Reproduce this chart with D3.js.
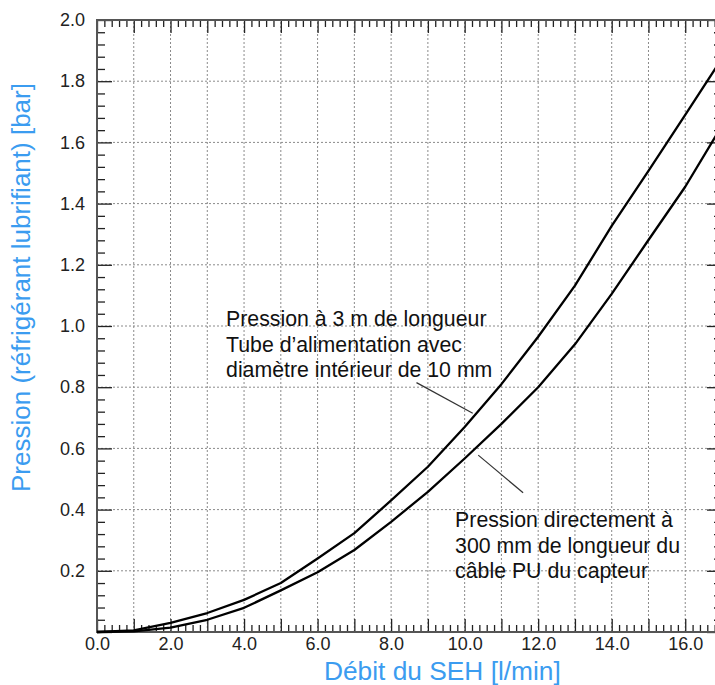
<!DOCTYPE html>
<html>
<head>
<meta charset="utf-8">
<script src="https://cdn.jsdelivr.net/npm/d3@7"></script>
<style>
  html, body { margin: 0; padding: 0; background: #fff; }
  svg { display: block; font-family: "Liberation Sans", Arial, sans-serif; }
</style>
</head>
<body>
<div id="chart"></div>
<script>
// Flow rate of the SEH [l/min]
const flowRates = [0, 1, 2, 3, 4, 5, 6, 7, 8, 9, 10, 11, 12, 13, 14, 15, 16, 17];
// Pressure with 3 m supply tube, 10 mm inner diameter [bar]
const pressureTube3m = [0, 0.005, 0.03, 0.062, 0.105, 0.16, 0.24, 0.323, 0.43, 0.54,
  0.67, 0.81, 0.965, 1.132, 1.327, 1.507, 1.69, 1.875];
// Pressure directly at 300 mm of the sensor PU cable [bar]
const pressureSensor300mm = [0, 0.002, 0.014, 0.04, 0.079, 0.136, 0.195, 0.268, 0.36, 0.458,
  0.567, 0.68, 0.8, 0.94, 1.105, 1.281, 1.455, 1.655];

const xTickLabels = [0, 2, 4, 6, 8, 10, 12, 14, 16];
const yTickLabels = [0.2, 0.4, 0.6, 0.8, 1.0, 1.2, 1.4, 1.6, 1.8, 2.0];

const xTitle = 'Débit du SEH [l/min]';
const yTitle = 'Pression (réfrigérant lubrifiant) [bar]';

const labelTube = ['Pression à 3 m de longueur', 'Tube d\u2019alimentation avec', 'diamètre intérieur de 10 mm'];
const labelSensor = ['Pression directement à', '300 mm de longueur du', 'câble PU du capteur'];

// annotation anchors in data units: text start, leader line [from, to]
const notes = [
  { lines: labelTube, at: [3.51, 1.0], leader: [[8.69, 0.815], [10.22, 0.715]] },
  { lines: labelSensor, at: [9.74, 0.343], leader: [[10.37, 0.578], [11.59, 0.455]] }
];

const width = 715, height = 685;
const margin = { top: 20, right: -7, bottom: 53, left: 97 };
const plotW = width - margin.left - margin.right;
const plotH = height - margin.top - margin.bottom;

const svg = d3.select('#chart').append('svg')
  .attr('width', width)
  .attr('height', height);

const x = d3.scaleLinear().domain([0, 17]).range([margin.left, margin.left + plotW]);
const y = d3.scaleLinear().domain([0, 2]).range([margin.top + plotH, margin.top]);

const x0 = x(0), x1 = x(17), y0 = y(0), y1 = y(2);

// --- grid ---
const grid = svg.append('g').attr('stroke', '#8a8a8a').attr('stroke-width', 1)
  .attr('stroke-dasharray', '2,2');
d3.range(1, 17).forEach(v => {
  grid.append('line').attr('x1', x(v)).attr('x2', x(v)).attr('y1', y0).attr('y2', y1);
});
d3.range(1, 10).map(i => i * 0.2).forEach(v => {
  grid.append('line').attr('x1', x0).attr('x2', x1).attr('y1', y(v)).attr('y2', y(v));
});

// --- ticks (pointing inward) ---
const minorX = d3.range(0, 85).map(i => i * 0.2).filter(v => Math.abs(v - Math.round(v)) > 1e-6);
const majorX = d3.range(0, 18);
const minorY = d3.range(0, 51).map(i => i * 0.04).filter(v => Math.abs(v / 0.2 - Math.round(v / 0.2)) > 1e-6);
const majorY = d3.range(0, 11).map(i => i * 0.2);

function tickAxis(axisFn, scale, values, size, pos, isX) {
  const g = svg.append('g')
    .attr('transform', isX ? `translate(0,${pos})` : `translate(${pos},0)`)
    .call(axisFn(scale).tickValues(values).tickSize(-size).tickFormat(''));
  g.select('.domain').remove();
  g.selectAll('line').attr('stroke', '#222').attr('stroke-width', 1.3);
  return g;
}
tickAxis(d3.axisBottom, x, minorX, 7, y0, true);
tickAxis(d3.axisBottom, x, majorX, 13, y0, true);
tickAxis(d3.axisTop, x, minorX, 7, y1, true);
tickAxis(d3.axisTop, x, majorX, 13, y1, true);
tickAxis(d3.axisLeft, y, minorY, 8, x0, false);
tickAxis(d3.axisLeft, y, majorY, 15, x0, false);
tickAxis(d3.axisRight, y, minorY, 8, x1, false);
tickAxis(d3.axisRight, y, majorY, 15, x1, false);

// frame
svg.append('rect')
  .attr('x', x0).attr('y', y1)
  .attr('width', x1 - x0).attr('height', y0 - y1)
  .attr('fill', 'none').attr('stroke', '#555').attr('stroke-width', 2);

// --- tick labels ---
const xLab = svg.append('g')
  .attr('transform', `translate(0,${y0})`)
  .call(d3.axisBottom(x).tickValues(xTickLabels).tickSize(0).tickPadding(5)
    .tickFormat(d3.format('.1f')));
xLab.select('.domain').remove();
xLab.selectAll('text').attr('font-size', 18).attr('fill', '#222')
  .attr('font-family', '"Liberation Sans", Arial, sans-serif');

const yLab = svg.append('g')
  .attr('transform', `translate(${x0},0)`)
  .call(d3.axisLeft(y).tickValues(yTickLabels).tickSize(0).tickPadding(12)
    .tickFormat(d3.format('.1f')));
yLab.select('.domain').remove();
yLab.selectAll('text').attr('font-size', 18).attr('fill', '#222')
  .attr('font-family', '"Liberation Sans", Arial, sans-serif');

// --- curves ---
const line = d3.line().x(d => x(d[0])).y(d => y(d[1]));
[pressureTube3m, pressureSensor300mm].forEach(series => {
  svg.append('path')
    .datum(flowRates.map((f, i) => [f, series[i]]))
    .attr('fill', 'none')
    .attr('stroke', '#000')
    .attr('stroke-width', 2.3)
    .attr('stroke-linejoin', 'round')
    .attr('d', line);
});

// --- annotations ---
notes.forEach(n => {
  svg.append('line')
    .attr('x1', x(n.leader[0][0])).attr('y1', y(n.leader[0][1]))
    .attr('x2', x(n.leader[1][0])).attr('y2', y(n.leader[1][1]))
    .attr('stroke', '#333').attr('stroke-width', 1.2);
  const t = svg.append('text')
    .attr('x', x(n.at[0])).attr('y', y(n.at[1]))
    .attr('font-size', 21.3).attr('fill', '#111');
  n.lines.forEach((s, i) => {
    t.append('tspan').attr('x', x(n.at[0])).attr('dy', i === 0 ? 0 : 25.5).text(s);
  });
});

// --- axis titles ---
svg.append('text')
  .attr('x', 324).attr('y', 680)
  .attr('font-size', 26.3).attr('fill', '#3b9cf0')
  .text(xTitle);

svg.append('text')
  .attr('transform', 'translate(30,492) rotate(-90)')
  .attr('font-size', 26).attr('fill', '#3b9cf0')
  .text(yTitle);
</script>
</body>
</html>
